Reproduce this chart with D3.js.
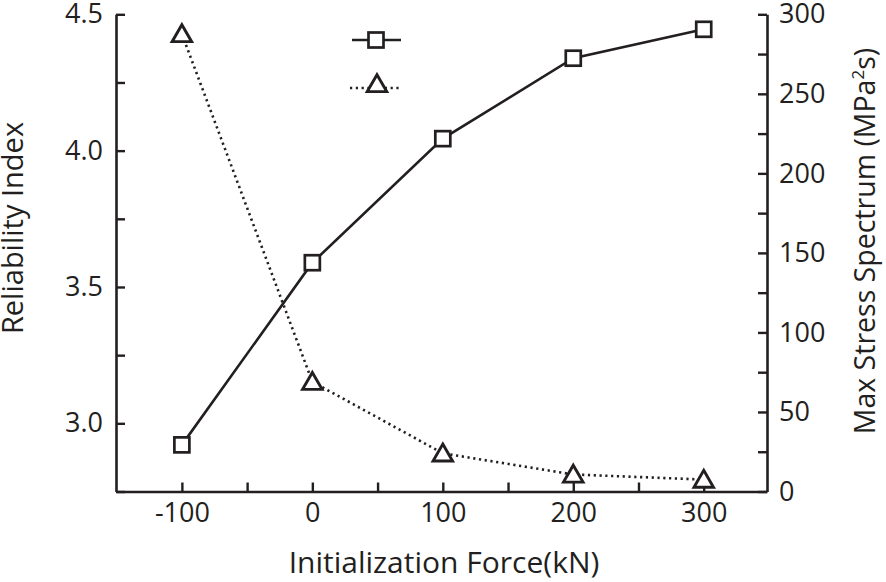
<!DOCTYPE html>
<html><head><meta charset="utf-8">
<script src="https://cdn.jsdelivr.net/npm/d3@7"></script>
<style>body{margin:0;background:#fff}text{font-family:"Open Sans",sans-serif;fill:#231f20}</style>
</head><body><svg id="c" width="886" height="582"></svg>
<script>
const forces = [-100, 0, 100, 200, 300];
const reliability = [2.921, 3.589, 4.044, 4.339, 4.445];
const stress = [287.6, 69, 24, 10.7, 7.5];
const xTicks = [-100, 0, 100, 200, 300];
const yLeftTicks = [3.0, 3.5, 4.0, 4.5];
const yRightTicks = [0, 50, 100, 150, 200, 250, 300];

const svg = d3.select("#c");
const ink = "#231f20";
const L = 116, R = 767, T = 14.3, B = 491.5;
const x = d3.scaleLinear().domain([-150.5, 348.5]).range([L, R]);
const yL = d3.scaleLinear().domain([2.75, 4.5]).range([B, T]);
const yR = d3.scaleLinear().domain([0, 300]).range([B, T]);

function styleAxis(g){
  g.select(".domain").attr("stroke", ink).attr("stroke-width", 2.6);
  g.selectAll(".tick line").attr("stroke", ink).attr("stroke-width", 2.4);
  g.selectAll(".tick text").style("font-size", "27px").attr("fill", ink);
}
// bottom axis (ticks inward)
const gx = svg.append("g").attr("transform", `translate(0,${B})`)
  .call(d3.axisBottom(x).tickValues(d3.range(-100, 301, 50)).tickSizeInner(-9).tickSizeOuter(0)
    .tickFormat(d => xTicks.includes(d) ? d : ""));
styleAxis(gx);
gx.selectAll(".tick text").attr("y", 11).attr("dy", "0.71em");
// left axis
const gl = svg.append("g").attr("transform", `translate(${L},0)`)
  .call(d3.axisLeft(yL).tickValues(d3.range(2.75, 4.51, 0.25)).tickSizeInner(-9).tickSizeOuter(0)
    .tickFormat(d => yLeftTicks.some(v => Math.abs(v - d) < 1e-6) ? d3.format(".1f")(d) : ""));
styleAxis(gl);
gl.selectAll(".tick text").attr("x", -13);
// right axis
const gr = svg.append("g").attr("transform", `translate(${R},0)`)
  .call(d3.axisRight(yR).tickValues(d3.range(0, 301, 25)).tickSizeInner(-9).tickSizeOuter(0)
    .tickFormat(d => yRightTicks.includes(d) ? d : ""));
styleAxis(gr);
gr.selectAll(".tick text").attr("x", 12);

// titles
svg.append("text").attr("x", 444).attr("y", 573).attr("text-anchor", "middle")
  .style("font-size", "30px").text("Initialization Force(kN)");
svg.append("text").attr("transform", `translate(23,228) rotate(-90)`).attr("text-anchor", "middle")
  .style("font-size", "29px").text("Reliability Index");
const rt = svg.append("text").attr("transform", `translate(875,241) rotate(-90)`).attr("text-anchor", "middle")
  .style("font-size", "28.5px");
rt.append("tspan").text("Max Stress Spectrum (MPa");
rt.append("tspan").attr("dy", -11).style("font-size", "17px").text("2");
rt.append("tspan").attr("dy", 11).text("s)");

// series
const pts1 = forces.map((f, i) => [x(f), yL(reliability[i])]);
const pts2 = forces.map((f, i) => [x(f), yR(stress[i])]);
svg.append("path").attr("d", d3.line()(pts1)).attr("fill", "none").attr("stroke", ink).attr("stroke-width", 2.6);
svg.append("path").attr("d", d3.line()(pts2)).attr("fill", "none").attr("stroke", ink)
  .attr("stroke-width", 2.6).attr("stroke-dasharray", "2.2 3.6");

const sq = 15, tri = d3.symbol().type(d3.symbolTriangle).size(165);
function square(g, cx, cy){
  g.append("rect").attr("x", cx - sq/2).attr("y", cy - sq/2).attr("width", sq).attr("height", sq)
    .attr("fill", "#fff").attr("stroke", ink).attr("stroke-width", 2.7);
}
function triangle(g, cx, cy){
  g.append("path").attr("d", tri).attr("transform", `translate(${cx},${cy + 2})`)
    .attr("fill", "#fff").attr("stroke", ink).attr("stroke-width", 2.9).attr("stroke-linejoin", "miter");
}
pts1.forEach(p => square(svg, p[0], p[1]));
pts2.forEach(p => triangle(svg, p[0], p[1]));

// legend (symbols only)
svg.append("line").attr("x1", 352).attr("x2", 401).attr("y1", 40).attr("y2", 40).attr("stroke", ink).attr("stroke-width", 2.6);
square(svg, 376, 40);
svg.append("line").attr("x1", 350).attr("x2", 401).attr("y1", 88).attr("y2", 88).attr("stroke", ink)
  .attr("stroke-width", 2.6).attr("stroke-dasharray", "2.2 3.6");
triangle(svg, 377, 84);
</script></body></html>
